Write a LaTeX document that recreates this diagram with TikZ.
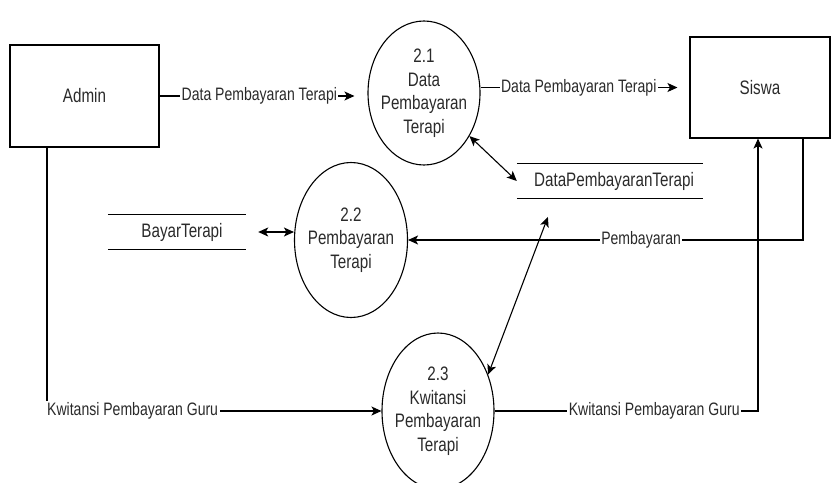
\documentclass[tikz,border=0pt]{standalone}
\usepackage{fontspec}
\setmainfont{Liberation Sans}[FakeStretch=0.78]
\usetikzlibrary{arrows.meta,shapes.geometric}
\definecolor{txt}{HTML}{2A2A2A}
\tikzset{
  nodefont/.style={font=\fontsize{19.5}{23.5}\selectfont, text=txt},
  ent/.style={draw, line width=1.1pt, rectangle, inner sep=0pt, nodefont},
  proc/.style={draw, line width=1.1pt, ellipse, inner sep=0pt},
  ptext/.style={nodefont, align=center, inner sep=0pt},
  store/.style={inner sep=0pt, nodefont},
  storeline/.style={line width=1.1pt},
  tip/.tip={Stealth[length=10pt,width=9pt,inset=2.5pt]},
  flow/.style={line width=1.1pt, -tip},
  both/.style={line width=1.1pt, tip-tip},
  lbl/.style={fill=white, inner sep=1.5pt, font=\fontsize{18}{21}\selectfont, text=txt},
}
\begin{document}
\begin{tikzpicture}[x=1pt,y=-1pt]
\useasboundingbox (0,0) rectangle (832,482);
% external entities
\node[ent, minimum width=149pt, minimum height=102pt] (admin) at (84.5,96) {Admin};
\node[ent, minimum width=140pt, minimum height=101pt] (siswa) at (760,87.5) {Siswa};
% processes
\node[proc, minimum width=112pt, minimum height=144pt,
  label={[ptext]center:2.1\\Data\\Pembayaran\\Terapi}] (p21) at (424,93) {};
\node[proc, minimum width=113pt, minimum height=155pt,
  label={[ptext]center:2.2\\Pembayaran\\Terapi}] (p22) at (351,240) {};
\node[proc, minimum width=112pt, minimum height=156pt,
  label={[ptext]center:2.3\\Kwitansi\\Pembayaran\\Terapi}] (p23) at (438,411) {};
% data stores
\node[store, minimum width=186pt, minimum height=34pt] (ds1) at (610,181) {\hspace*{8pt}DataPembayaranTerapi};
\draw[storeline] (ds1.north west) -- (ds1.north east) (ds1.south west) -- (ds1.south east);
\node[store, minimum width=138pt, minimum height=34pt] (ds2) at (177,232) {\hspace*{10pt}BayarTerapi};
\draw[storeline] (ds2.north west) -- (ds2.north east) (ds2.south west) -- (ds2.south east);
% flows
\draw[flow, shorten >=13pt] (admin.east) -- (admin.east -| p21.west)
  node[lbl, pos=0.48] {Data Pembayaran Terapi};
\draw[flow, shorten >=12pt] (siswa.west -| p21.east) -- (siswa.west)
  node[lbl, pos=0.47] {Data Pembayaran Terapi};
\draw[both] (p21) -- (ds1.west);
\draw[both, shorten <=12pt] (ds2.east) -- (ds2.east -| p22.west);
\draw[flow] ([xshift=43pt]siswa.south) |- (p22.east)
  node[lbl, pos=0.705] {Pembayaran};
\draw[flow] ([xshift=-37.5pt]admin.south) |- (p23.west)
  node[lbl, pos=0.628] {Kwitansi Pembayaran Guru};
\draw[flow] (p23.east) -| ([xshift=-2pt]siswa.south)
  node[lbl, pos=0.303] {Kwitansi Pembayaran Guru};
\draw[both, shorten >=20pt] (p23.36) -- ([xshift=-55pt]ds1.south);
\end{tikzpicture}
\end{document}
